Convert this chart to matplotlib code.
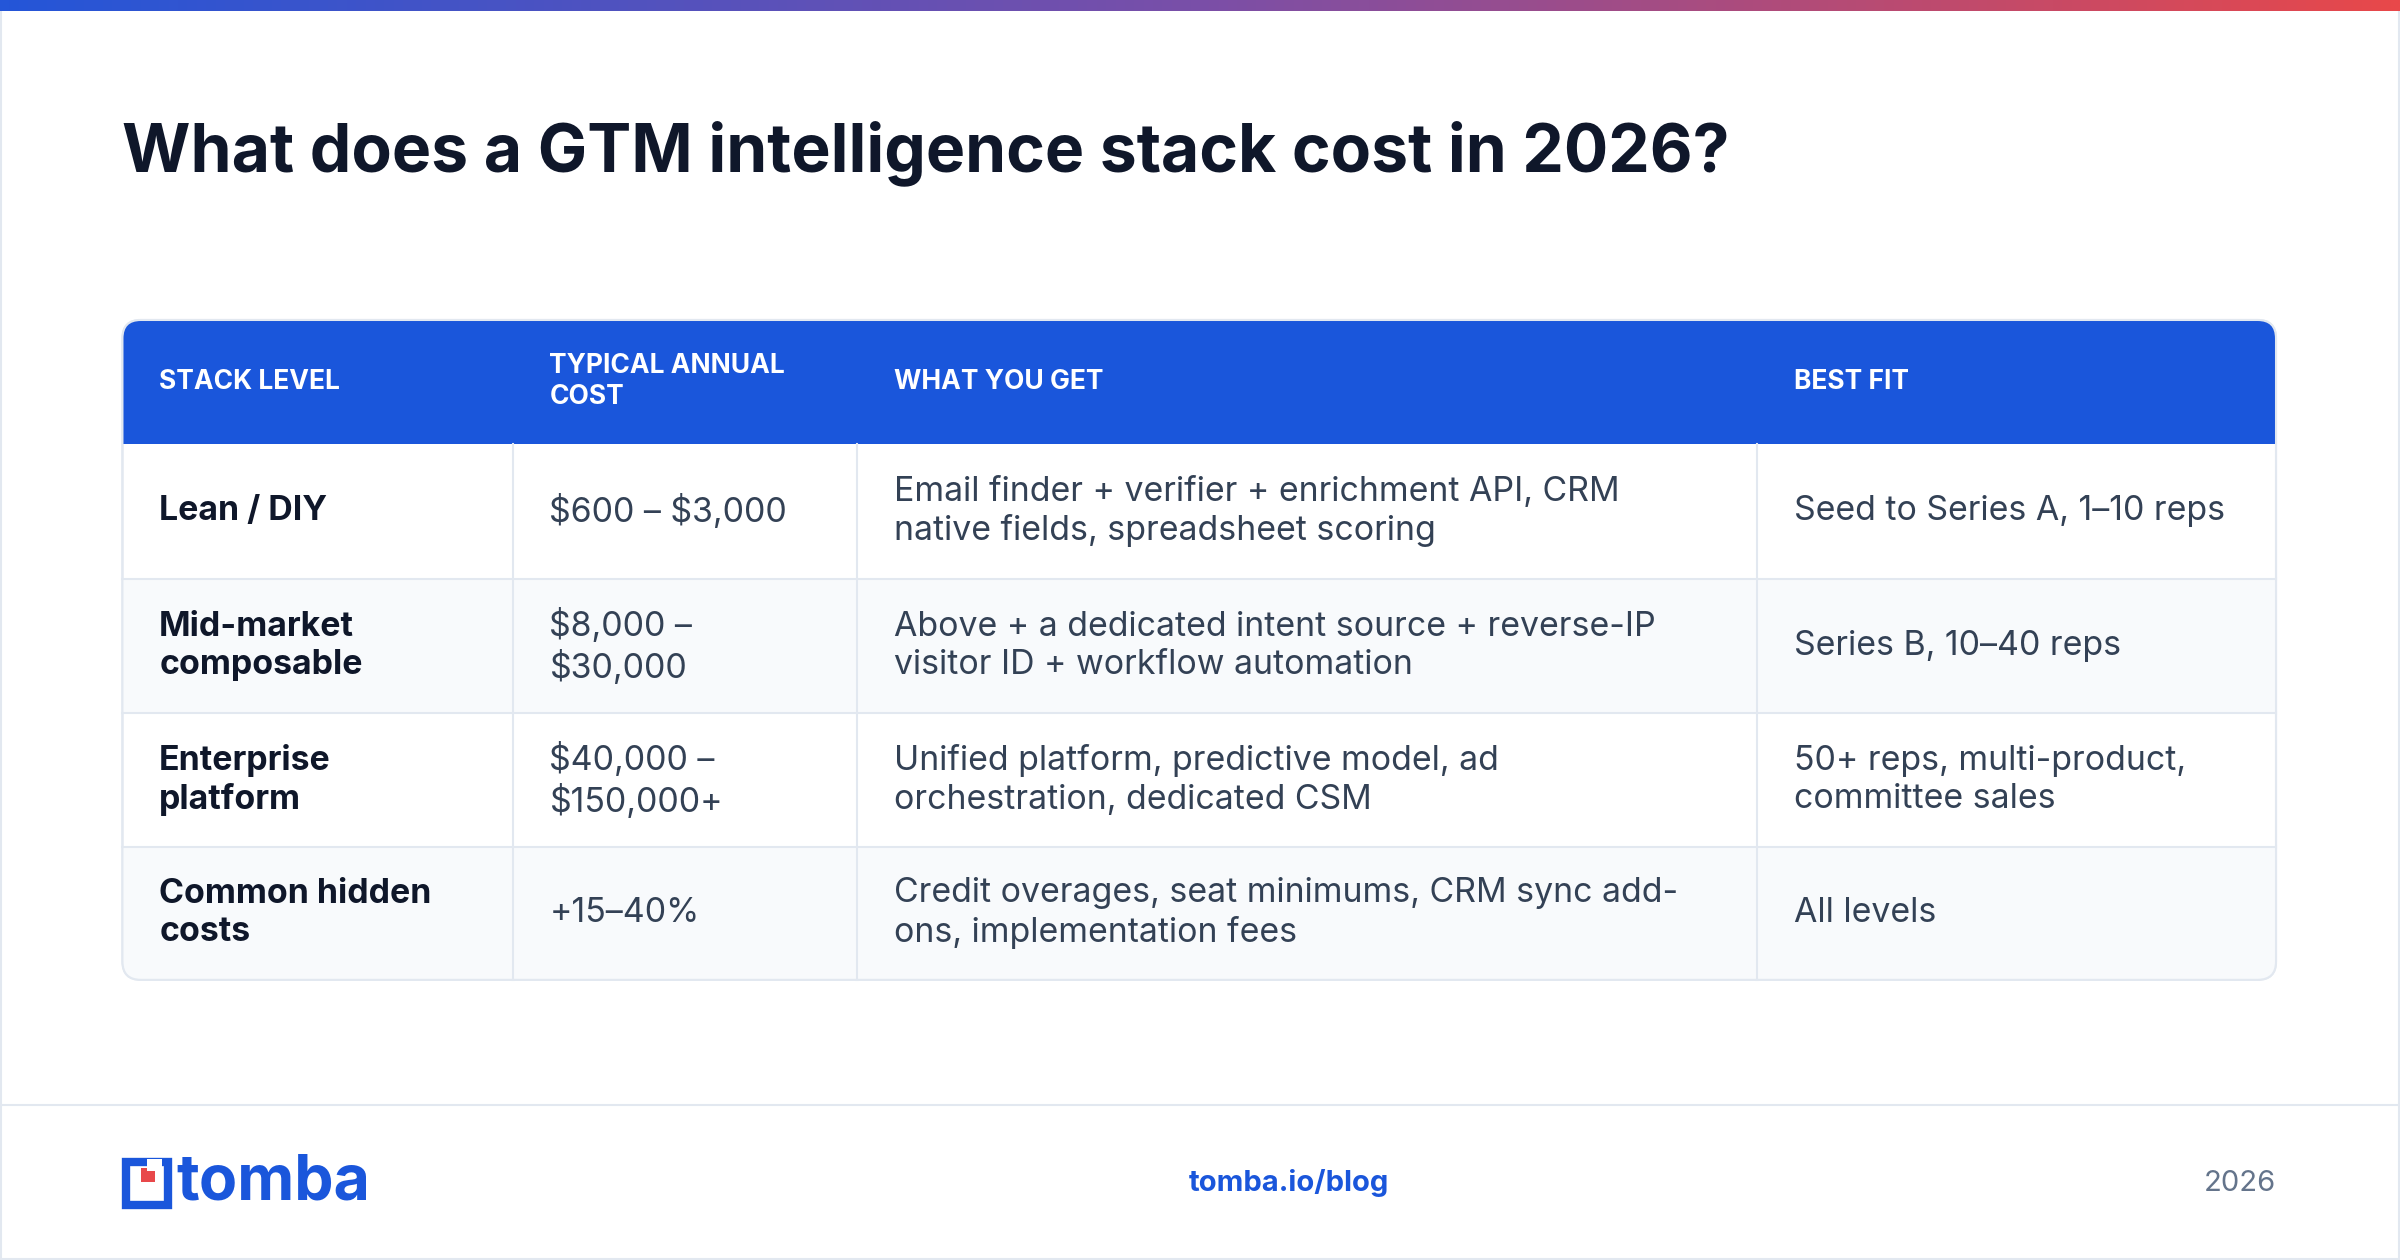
import matplotlib
matplotlib.use("Agg")
import matplotlib.pyplot as plt
from matplotlib.patches import FancyBboxPatch, Rectangle
from matplotlib.colors import LinearSegmentedColormap
import numpy as np

plt.rcParams['text.parse_math'] = False

title = "What does a GTM intelligence stack cost in 2026?"
headers = ["STACK LEVEL", "TYPICAL ANNUAL\nCOST", "WHAT YOU GET", "BEST FIT"]
levels = ["Lean / DIY", "Mid-market\ncomposable", "Enterprise\nplatform", "Common hidden\ncosts"]
costs = ["$600 – $3,000", "$8,000 –\n$30,000", "$40,000 –\n$150,000+", "+15–40%"]
gets = ["Email finder + verifier + enrichment API, CRM\nnative fields, spreadsheet scoring",
        "Above + a dedicated intent source + reverse-IP\nvisitor ID + workflow automation",
        "Unified platform, predictive model, ad\norchestration, dedicated CSM",
        "Credit overages, seat minimums, CRM sync add-\nons, implementation fees"]
fits = ["Seed to Series A, 1–10 reps", "Series B, 10–40 reps",
        "50+ reps, multi-product,\ncommittee sales", "All levels"]

plt.rcParams['font.family'] = ['Inter', 'DejaVu Sans']
W, H = 1568, 823
fig = plt.figure(figsize=(24, 12.6), dpi=100)
ax = fig.add_axes([0, 0, 1, 1])
ax.axis('off')

ax.add_patch(Rectangle((0.5, 0.5), W - 1, H - 1, fill=False, ec='#e2e8f0', lw=1.5))
grad = np.linspace(0, 1, 256)[None, :]
cm = LinearSegmentedColormap.from_list('g', ['#2456d8', '#7a4fa8', '#e8484a'])
ax.imshow(grad, cmap=cm, extent=[0, W, 7, 0], aspect='auto', zorder=5)
ax.set_xlim(0, W); ax.set_ylim(H, 0)

ax.text(80, 100, title, fontsize=47.5, fontweight='bold', color='#0f172a', va='center', ha='left')

x0, x1 = 80, 1487
ytop, yh = 209, 290
rows = [290, 378, 466, 553, 640]
cols = [80, 335, 560, 1148, 1487]
r = 12
outline = FancyBboxPatch((x0, ytop), x1 - x0, rows[-1] - ytop,
                         boxstyle=f"round,pad=0,rounding_size={r}", fc='white', ec='#e2e8f0', lw=1.5, zorder=1)
ax.add_patch(outline)
hdr = Rectangle((x0, ytop), x1 - x0, yh - ytop, fc='#1a56db', ec='none', zorder=2)
ax.add_patch(hdr); hdr.set_clip_path(outline)
for i in range(4):
    if i % 2 == 1:
        p = Rectangle((x0, rows[i]), x1 - x0, rows[i + 1] - rows[i], fc='#f8fafc', ec='none', zorder=2)
        ax.add_patch(p); p.set_clip_path(outline)
    if i > 0:
        ax.plot([x0, x1], [rows[i], rows[i]], color='#e2e8f0', lw=1.5, zorder=3)
for c in cols[1:-1]:
    ax.plot([c, c], [yh, rows[-1]], color='#e2e8f0', lw=1.5, zorder=3)
ax.add_patch(FancyBboxPatch((x0, ytop), x1 - x0, rows[-1] - ytop,
             boxstyle=f"round,pad=0,rounding_size={r}", fc='none', ec='#e2e8f0', lw=1.5, zorder=4))

pad = 24
for j, h in enumerate(headers):
    ax.text(cols[j] + pad, (ytop + yh) / 2, h, fontsize=19, fontweight='bold', color='white',
            va='center', ha='left', linespacing=1.25, zorder=6)
for i in range(4):
    yc = (rows[i] + rows[i + 1]) / 2
    vals = [levels[i], costs[i], gets[i], fits[i]]
    for j, v in enumerate(vals):
        ax.text(cols[j] + pad, yc, v, fontsize=24.4, fontweight='bold' if j == 0 else 'normal',
                color='#0f172a' if j == 0 else '#334155', va='center', ha='left',
                linespacing=1.25, zorder=6)

ax.plot([0, W], [722, 722], color='#e2e8f0', lw=1.5)
ax.add_patch(Rectangle((82, 759), 28, 28, fill=False, ec='#1a56db', lw=6))
ax.add_patch(Rectangle((92, 763), 9, 9, fc='#e8484a', ec='none'))
ax.add_patch(Rectangle((96, 757), 10, 8, fc='white', ec='none'))
ax.text(115, 773, "tomba", fontsize=45, fontweight='bold', color='#1a56db', va='center', ha='left')
ax.text(842, 773, "tomba.io/blog", fontsize=21, fontweight='bold', color='#1a56db', va='center', ha='center')
ax.text(1487, 773, "2026", fontsize=21, color='#64748b', va='center', ha='right')

fig.savefig("out.png", dpi=100)
